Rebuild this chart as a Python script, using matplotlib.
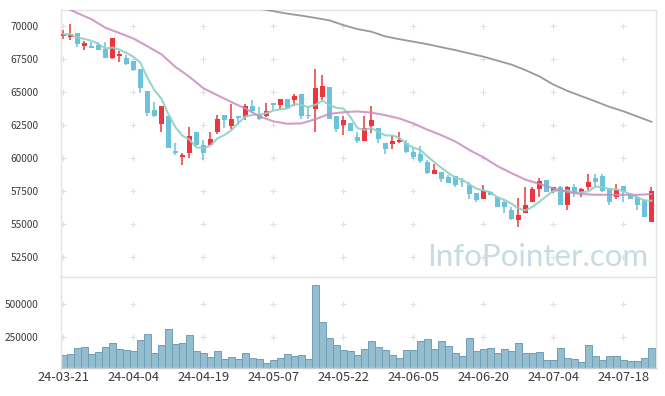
import matplotlib
matplotlib.use('Agg')
import matplotlib.pyplot as plt
import numpy as np
import pandas as pd

plt.rcParams['font.family'] = ['Noto Sans CJK KR', 'DejaVu Sans']

# KRX trading days (market holidays removed)
holidays = ['2024-04-10', '2024-05-01', '2024-05-06', '2024-05-15', '2024-06-06']
dates = pd.bdate_range('2024-03-21', '2024-07-24', freq='C', holidays=holidays)

opens = [69250, 69170, 69470, 68540, 68485, 68585, 68280, 67600, 67750, 67575,
         67350, 66740, 65075, 63640, 62600, 63180, 60530, 60075, 60410, 61970,
         60985, 61010, 61950, 63255, 62425, 63180, 63080, 63940, 63255, 63205,
         64145, 64015, 64470, 64390, 64850, 63255, 63710, 64600, 65380, 63180,
         62500, 62630, 61615, 61310, 62425, 62275, 61115, 61085, 61210, 61160,
         60480, 60300, 59720, 58800, 58960, 58580, 58640, 58280, 57955, 57350,
         56870, 57425, 57020, 56690, 56060, 55300, 55810, 56690, 57630, 58330,
         57500, 57780, 56390, 57780, 57450, 57780, 58460, 58640, 57650, 56995,
         57880, 57200, 56995, 56740, 55100]
highs = [69750, 70150, 69470, 68860, 68820, 68840, 68790, 69140, 68130, 67800,
         67350, 66740, 65075, 64220, 63940, 63180, 61115, 60355, 62350, 61970,
         61365, 61950, 63255, 63255, 64070, 63180, 64070, 64390, 63840, 64145,
         64145, 64470, 64470, 64850, 64850, 63940, 66740, 66290, 65380, 63180,
         63205, 62630, 62000, 63205, 63940, 62275, 61115, 61690, 62000, 61365,
         60860, 60935, 59850, 59550, 58960, 58710, 58640, 58460, 58180, 57350,
         57955, 57500, 57100, 56820, 56310, 56950, 57780, 57830, 58460, 58330,
         57830, 57880, 57880, 58010, 57700, 58790, 58790, 58790, 57700, 58030,
         57880, 57325, 57120, 56870, 57830]
lows = [69070, 68940, 68460, 68240, 68357, 68205, 67600, 67525, 67300, 67100,
        66650, 64975, 63205, 63090, 62000, 60780, 60230, 59450, 60025, 60835,
        59825, 61010, 61800, 62250, 62175, 62500, 62880, 63430, 62880, 63130,
        63635, 63635, 63810, 63940, 62930, 62930, 61995, 64390, 62930, 61950,
        61720, 62020, 61115, 61310, 61920, 61115, 60280, 60685, 61115, 60400,
        59925, 59600, 58790, 58800, 58180, 58100, 57800, 57780, 56890, 56670,
        56870, 57220, 56265, 55810, 55300, 54750, 55810, 56690, 57070, 57450,
        57370, 56390, 56010, 57020, 57070, 57575, 57830, 57450, 56440, 56870,
        56615, 56900, 56060, 55480, 55100]
closes = [69400, 69400, 68660, 68735, 68357, 68205, 67600, 69090, 67930, 67145,
          66690, 65325, 63385, 63180, 63940, 60780, 60380, 60200, 61670, 61010,
          60400, 61440, 62955, 62880, 62955, 63055, 63940, 63560, 62930, 63560,
          64015, 64470, 63810, 64700, 63180, 63180, 65300, 65455, 62930, 62225,
          62880, 62020, 61310, 62250, 62880, 61415, 60710, 61285, 61365, 60480,
          60100, 59775, 58890, 59090, 58410, 58100, 57955, 58180, 57250, 56820,
          57500, 57220, 56265, 56265, 55380, 55680, 56440, 57650, 58260, 57450,
          57780, 56390, 57780, 57325, 57650, 58160, 58200, 57525, 56615, 57575,
          57500, 56900, 56390, 55480, 57500]
volumes = [110800, 118500, 165000, 172700, 118500, 134000, 172700, 203600, 157200, 149500,
           141700, 226800, 273200, 126300, 185600, 311900, 195900, 203600, 262900, 141700,
           126300, 95400, 141700, 79900, 95400, 79900, 126300, 87600, 79900, 49000,
           72200, 87600, 118500, 103100, 110800, 79900, 644300, 358200, 239700, 185600,
           149500, 141700, 110800, 157200, 219100, 172700, 149500, 108200, 87600, 149500,
           149500, 219100, 234500, 157200, 219100, 180400, 126300, 103100, 239700, 141700,
           157200, 165000, 126300, 157200, 141700, 203600, 126300, 126300, 134000, 72200,
           72200, 165000, 87600, 79900, 56700, 185600, 103100, 72200, 103100, 103100,
           72200, 64400, 64400, 87600, 165000]

# 20 and 60 day averages (they need history before the window)
ma20_idx = [1, 4, 6, 8, 10, 12, 14, 16, 18, 20, 22, 24, 26, 28, 30, 32, 34, 36, 38, 40, 42,
            44, 46, 48, 50, 52, 54, 56, 58, 60, 62, 64, 66, 68, 70, 72, 74, 76, 78, 80, 82, 84]
ma20_val = [71250, 70550, 69900, 69500, 69080, 68490, 67880, 66920, 66170, 65300, 64770,
            64250, 63750, 63170, 62780, 62600, 62630, 62950, 63350, 63480, 63540,
            63450, 63250, 63000, 62620, 62150, 61730, 61250, 60600, 60050, 59380,
            58850, 58350, 58030, 57680, 57410, 57260, 57200, 57200, 57200, 57200, 57250]
ma60_idx = [28, 32, 34, 36, 38, 40, 42, 44, 46, 48, 50, 52, 54, 56, 58, 60, 62, 64, 66,
            68, 70, 72, 74, 76, 78, 80, 82, 84]
ma60_val = [71350, 70970, 70820, 70650, 70460, 70100, 69800, 69600, 69240, 69030, 68840,
            68650, 68420, 68200, 67950, 67700, 67400, 67100, 66680, 66200, 65580,
            65100, 64700, 64300, 63890, 63550, 63150, 62750]

x = np.arange(len(closes))
o = np.array(opens); c = np.array(closes)
h = np.array(highs); l = np.array(lows)
ma5 = pd.Series(c).rolling(5, min_periods=1).mean()

up_col = '#ee353b'
dn_col = '#6cc2d8'
colors = [up_col if cc >= oo else dn_col for oo, cc in zip(o, c)]

fig = plt.figure(figsize=(6.65, 3.96), dpi=100)
ax = fig.add_axes([61/665, 1-277/396, 595/665, 267/396])
axv = fig.add_axes([61/665, 1-367.5/396, 595/665, 90.5/396], sharex=ax)

xticks = list(range(0, len(x), 10))
yticks = list(range(52500, 70001, 2500))
vticks = [250000, 500000]

# grid crosses
gx, gy = np.meshgrid(xticks, yticks)
ax.scatter(gx.ravel(), gy.ravel(), marker='+', s=22, c='#e0e0e0', linewidths=0.8, zorder=0)
gx, gy = np.meshgrid(xticks, vticks)
axv.scatter(gx.ravel(), gy.ravel(), marker='+', s=22, c='#e0e0e0', linewidths=0.8, zorder=0)

ax.text(0.987, 0.041, 'InfoPointer.com', transform=ax.transAxes, ha='right', va='baseline',
        fontsize=22.5, color='#c8dae4', family=['Lato', 'DejaVu Sans'], zorder=1)

# candles
ax.vlines(x, l, h, colors=colors, linewidth=1.1, zorder=2)
ax.bar(x, np.maximum(np.abs(c - o), 40), bottom=np.minimum(o, c), width=0.72,
       color=colors, zorder=3)

ax.plot(x, ma5, color='#92d0c5', lw=1.5, alpha=0.9, zorder=4)
ax.plot(ma20_idx, ma20_val, color='#c98cc2', lw=1.5, alpha=0.85, zorder=4)
ax.plot(ma60_idx, ma60_val, color='#999999', lw=1.3, zorder=4)

ax.set_xlim(-0.35, 84.65)
ax.set_ylim(50950, 71250)
ax.set_yticks(yticks)
ax.set_yticklabels([str(v) for v in yticks])

# volume
axv.bar(x, volumes, width=0.88, color='#94bdd0', edgecolor='#6f9fb6', linewidth=0.7, zorder=2)
axv.set_ylim(15000, 705000)
axv.set_yticks(vticks)
axv.set_yticklabels([str(v) for v in vticks])
axv.set_xticks(xticks)
axv.set_xticklabels([dates[i].strftime('%y-%m-%d') for i in xticks])

for a in (ax, axv):
    for s in a.spines.values():
        s.set_color('#e3e3e3')
        s.set_linewidth(1.0)
    a.tick_params(length=0, colors='#3a3a3a')
    a.tick_params(axis='y', labelsize=7.3, pad=16)
    a.set_facecolor('white')
axv.spines['bottom'].set_color('#cccccc')
axv.tick_params(axis='x', labelsize=9.3, pad=2.5)
ax.tick_params(axis='x', labelbottom=False)

fig.savefig('out.png', dpi=100)
